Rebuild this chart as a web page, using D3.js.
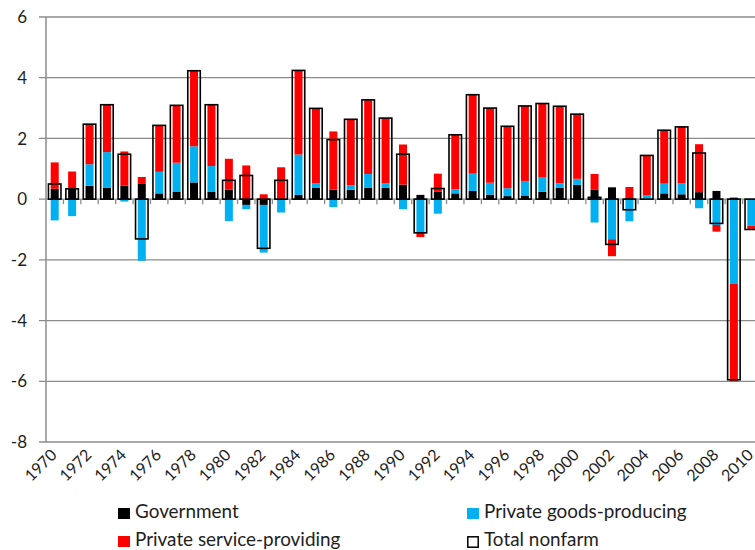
<!DOCTYPE html>
<html>
<head>
<meta charset="utf-8">
<script src="https://cdn.jsdelivr.net/npm/d3@7"></script>
<style>
  body { margin: 0; background: #fff; }
  svg text { font-family: Lato, "Open Sans", sans-serif; fill: #1e1e1e; }
</style>
</head>
<body>
<script>
// Annual change in payroll employment (millions)
var years = d3.range(1970, 2011);
var tickYears = d3.range(1970, 2011, 2);
var yTicks = [-8, -6, -4, -2, 0, 2, 4, 6];

var government = [0.34, 0.34, 0.44, 0.38, 0.44, 0.50, 0.19, 0.25, 0.55, 0.25,
    0.31, -0.19, -0.19, 0.00, 0.14, 0.37, 0.31, 0.31, 0.37, 0.37,
    0.48, 0.14, 0.24, 0.19, 0.27, 0.15, 0.10, 0.12, 0.24, 0.38,
    0.47, 0.32, 0.39, 0.06, 0.00, 0.19, 0.16, 0.23, 0.27, 0.05, 0.00];
var goods = [-0.70, -0.56, 0.71, 1.17, -0.08, -2.03, 0.71, 0.95, 1.19, 0.84,
    -0.72, -0.14, -1.57, -0.44, 1.33, 0.15, -0.26, 0.15, 0.46, 0.15,
    -0.33, -1.12, -0.48, 0.14, 0.57, 0.39, 0.26, 0.48, 0.47, 0.14,
    0.20, -0.77, -1.32, -0.73, 0.12, 0.32, 0.36, -0.30, -0.85, -2.78, -0.88];
var services = [0.87, 0.57, 1.32, 1.56, 1.13, 0.23, 1.54, 1.88, 2.49, 2.02,
    1.02, 1.11, 0.16, 1.05, 2.77, 2.47, 1.92, 2.17, 2.43, 2.15,
    1.32, -0.13, 0.60, 1.79, 2.60, 2.46, 2.04, 2.47, 2.44, 2.54,
    2.13, 0.51, -0.56, 0.34, 1.32, 1.76, 1.86, 1.58, -0.22, -3.22, -0.10];
var totalNonfarm = [0.50, 0.34, 2.47, 3.11, 1.48, -1.31, 2.43, 3.09, 4.23, 3.11,
    0.62, 0.78, -1.62, 0.62, 4.24, 2.99, 1.96, 2.63, 3.27, 2.67,
    1.48, -1.11, 0.35, 2.12, 3.44, 3.00, 2.40, 3.07, 3.15, 3.06,
    2.80, 0.06, -1.49, -0.35, 1.44, 2.27, 2.38, 1.52, -0.80, -5.95, -1.00];

var seriesNames = ['Government', 'Private goods-producing', 'Private service-providing'];
var colors = ['#000000', '#00b0f0', '#ff0000'];

var width = 755,
    height = 550;

var svg = d3.select('body').append('svg')
    .attr('width', width)
    .attr('height', height);

// plot runs past the right edge, like the cropped original
var x = d3.scaleBand()
    .domain(years)
    .range([46, 760]);

var y = d3.scaleLinear()
    .domain([-8, 6])
    .range([442, 17]);

var rows = years.map(function(yr, i) {
    return { year: yr, g: government[i], p: goods[i], s: services[i], t: totalNonfarm[i] };
});

// gridlines + y ticks
svg.append('g')
    .selectAll('line')
    .data(yTicks.filter(function(d) { return d !== 0; }))
    .enter().append('line')
    .attr('x1', 39).attr('x2', width)
    .attr('y1', function(d) { return y(d); })
    .attr('y2', function(d) { return y(d); })
    .attr('stroke', '#8c8c8c')
    .attr('stroke-width', 1.3);

svg.append('g')
    .selectAll('text')
    .data(yTicks)
    .enter().append('text')
    .attr('x', 27)
    .attr('y', function(d) { return y(d); })
    .attr('dy', '0.36em')
    .attr('text-anchor', 'end')
    .style('font-size', '17px')
    .text(function(d) { return d; });

// vertical axis
svg.append('line')
    .attr('x1', 46).attr('x2', 46)
    .attr('y1', y(6)).attr('y2', y(-8))
    .attr('stroke', '#8c8c8c')
    .attr('stroke-width', 1.5);

// zero axis with tick marks between categories
svg.append('line')
    .attr('x1', 39).attr('x2', width)
    .attr('y1', y(0)).attr('y2', y(0))
    .attr('stroke', '#8c8c8c')
    .attr('stroke-width', 1.3);
svg.append('g')
    .selectAll('line')
    .data(years.slice(1))
    .enter().append('line')
    .attr('x1', function(d) { return x(d); })
    .attr('x2', function(d) { return x(d); })
    .attr('y1', y(0)).attr('y2', y(0) + 5)
    .attr('stroke', '#8c8c8c')
    .attr('stroke-width', 1.3);

// stacked components
var stack = d3.stack()
    .keys(['g', 'p', 's'])
    .offset(d3.stackOffsetDiverging);
var layers = stack(rows);
var barW = 8;

svg.append('g')
    .selectAll('g')
    .data(layers)
    .enter().append('g')
    .attr('fill', function(d, i) { return colors[i]; })
    .selectAll('rect')
    .data(function(d) { return d; })
    .enter().append('rect')
    .attr('x', function(d) { return x(d.data.year) + x.bandwidth() / 2 - barW / 2; })
    .attr('width', barW)
    .attr('y', function(d) { return y(Math.max(d[0], d[1])); })
    .attr('height', function(d) { return Math.abs(y(d[0]) - y(d[1])); });

// total nonfarm outline boxes
var boxW = 12.5;
svg.append('g')
    .selectAll('rect')
    .data(rows)
    .enter().append('rect')
    .attr('x', function(d) { return x(d.year) + x.bandwidth() / 2 - boxW / 2; })
    .attr('width', boxW)
    .attr('y', function(d) { return y(Math.max(0, d.t)); })
    .attr('height', function(d) { return Math.abs(y(d.t) - y(0)); })
    .attr('fill', 'none')
    .attr('stroke', '#000')
    .attr('stroke-width', 1.6);

// x labels, rotated
svg.append('g')
    .selectAll('text')
    .data(tickYears)
    .enter().append('text')
    .attr('transform', function(d) {
        return 'translate(' + (x(d) + x.bandwidth() / 2 + 3) + ',456) rotate(-45)';
    })
    .attr('text-anchor', 'end')
    .style('font-size', '16px')
    .text(function(d) { return d; });

// legend
var legendItems = [
    { name: seriesNames[0], color: colors[0], lx: 118, ly: 518 },
    { name: seriesNames[1], color: colors[1], lx: 467, ly: 518 },
    { name: seriesNames[2], color: colors[2], lx: 118, ly: 546 },
    { name: 'Total nonfarm', color: 'none', lx: 467, ly: 546 }
];
var legend = svg.append('g')
    .selectAll('g')
    .data(legendItems)
    .enter().append('g')
    .attr('transform', function(d) { return 'translate(' + d.lx + ',' + d.ly + ')'; });
legend.append('rect')
    .attr('x', function(d) { return d.color === 'none' ? 0.8 : 0; })
    .attr('y', function(d) { return d.color === 'none' ? -9.2 : -10; })
    .attr('width', function(d) { return d.color === 'none' ? 10.4 : 12; })
    .attr('height', function(d) { return d.color === 'none' ? 10.4 : 11; })
    .attr('fill', function(d) { return d.color === 'none' ? '#fff' : d.color; })
    .attr('stroke', function(d) { return d.color === 'none' ? '#000' : 'none'; })
    .attr('stroke-width', 1.5);
legend.append('text')
    .attr('x', 17)
    .attr('y', 0)
    .style('font-size', '18.9px')
    .text(function(d) { return d.name; });
</script>
</body>
</html>
